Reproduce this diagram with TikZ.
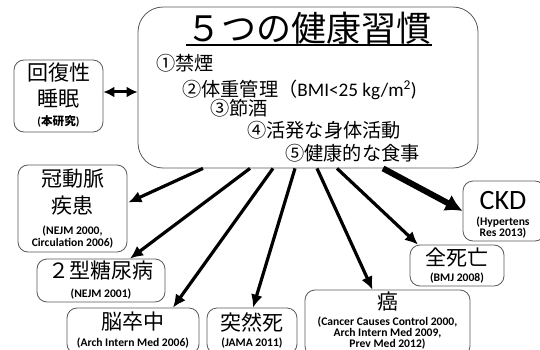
\documentclass[tikz,border=0pt]{standalone}
\usepackage{fontspec}
\setmainfont{Carlito}
\newfontfamily\jp{Noto Sans CJK JP}
\usetikzlibrary{arrows.meta,calc}
\begin{document}
\begin{tikzpicture}[x=1pt,y=-1pt,
  box/.style={draw=black!65, line width=0.8pt, rounded corners=10pt, fill=white, inner sep=0pt},
  jpbig/.style={font=\jp\fontsize{21}{21}\selectfont, inner sep=0pt},
  item/.style={font=\jp\fontsize{19.2}{19.2}\selectfont, inner sep=0pt, anchor=west},
  refs/.style={font=\bfseries\fontsize{11.6}{11.2}\selectfont, align=center, inner sep=0pt},
  arr/.style={line width=3.2pt, -{Latex[length=13pt,width=12pt]}},
  bigarr/.style={line width=6pt, -{Latex[length=17pt,width=18pt]}},
  darr/.style={line width=3pt, {Latex[length=11pt,width=11pt]}-{Latex[length=11pt,width=11pt]}}
]
\useasboundingbox (0,0) rectangle (540,350);

% main box
\node[box, rounded corners=25pt, minimum width=340pt, minimum height=161pt] (main) at (308,87.5) {};
\node[font=\jp\fontsize{35}{35}\selectfont, inner sep=0pt] (title) at (309,28) {５つの健康習慣};
\draw[line width=1.6pt] ($(title.south west)+(0,0.5)$) -- ($(title.south east)+(0,0.5)$);
\node[item] (i1) at (156,63) {①禁煙};
\node[item] (i2) at (182,90) {②体重管理（{\rmfamily BMI<25 kg/m\textsuperscript{2})}};
\node[item] (i3) at (210,108) {③節酒};
\node[item] (i4) at (247,130) {④活発な身体活動};
\node[item] (i5) at (285,153) {⑤健康的な食事};

% sleep
\node[box, minimum width=89pt, minimum height=72pt] (sleep) at (58.5,96) {};
\node[jpbig] (sleepA) at (58.5,73) {回復性};
\node[jpbig] (sleepB) at (58.5,99) {睡眠};
\node[refs] (sleepC) at (58.5,121) {(\jp\bfseries 本研究\rmfamily)};

% CHD
\node[box, minimum width=109pt, minimum height=87pt] (chd) at (72.5,208.5) {};
\node[jpbig] (chdA) at (72.5,179) {冠動脈};
\node[jpbig] (chdB) at (72.5,206) {疾患};
\node[refs] (chdC) at (72.5,237) {(NEJM 2000,\\Circulation 2006)};

% DM
\node[box, minimum width=128pt, minimum height=43pt] (dm) at (101,280.5) {};
\node[jpbig] (dmA) at (101,271) {２型糖尿病};
\node[refs] (dmB) at (101,294) {(NEJM 2001)};

% stroke
\node[box, minimum width=132pt, minimum height=46pt] (stroke) at (133,331) {};
\node[jpbig] (strokeA) at (133,322) {脳卒中};
\node[refs] (strokeB) at (133,343) {(Arch Intern Med 2006)};

% sudden death
\node[box, minimum width=90pt, minimum height=46pt] (sudden) at (252,331) {};
\node[jpbig] (suddenA) at (252,322) {突然死};
\node[refs] (suddenB) at (252,343) {(JAMA 2011)};

% cancer
\node[box, minimum width=165pt, minimum height=66pt] (cancer) at (387.5,323) {};
\node[jpbig] (cancerA) at (387.5,302) {癌};
\node[refs] (cancerB) at (387.5,333) {(Cancer Causes Control 2000,\\Arch Intern Med 2009,\\Prev Med 2012)};

% all-cause death
\node[box, minimum width=94pt, minimum height=41pt] (alld) at (457,265.5) {};
\node[jpbig] (alldA) at (457,257) {全死亡};
\node[refs] (alldB) at (457,278) {(BMJ 2008)};

% CKD
\node[box, minimum width=82pt, minimum height=60pt] (ckd) at (504,211) {};
\node[font=\fontsize{28}{28}\selectfont, inner sep=0pt] (ckdA) at (503,201) {CKD};
\node[refs] (ckdB) at (503,227.5) {(Hypertens\\Res 2013)};

% connectors
\draw[darr] ($(sleep.east)+(0,-4)$) -- ($(main.west)+(0,4.5)$);
\draw[arr] ($(main.south)+(-105,0)$) -- ($(chd.east)+(1,-6)$);
\draw[arr] ($(main.south)+(-58,0)$) -- ($(dm.north)+(29,0)$);
\draw[arr] ($(main.south)+(-35,0)$) -- ($(stroke.north)+(40,0)$);
\draw[arr] ($(main.south)+(-13,0)$) -- ($(sudden.north)+(1,0)$);
\draw[arr] ($(main.south)+(9,0)$) -- ($(cancer.north)+(-15,0)$);
\draw[arr] ($(main.south)+(29,0)$) -- ($(alld.north)+(-39,0)$);
\draw[bigarr] ($(main.south)+(75,0)$) -- (ckd.west);
\end{tikzpicture}
\end{document}
